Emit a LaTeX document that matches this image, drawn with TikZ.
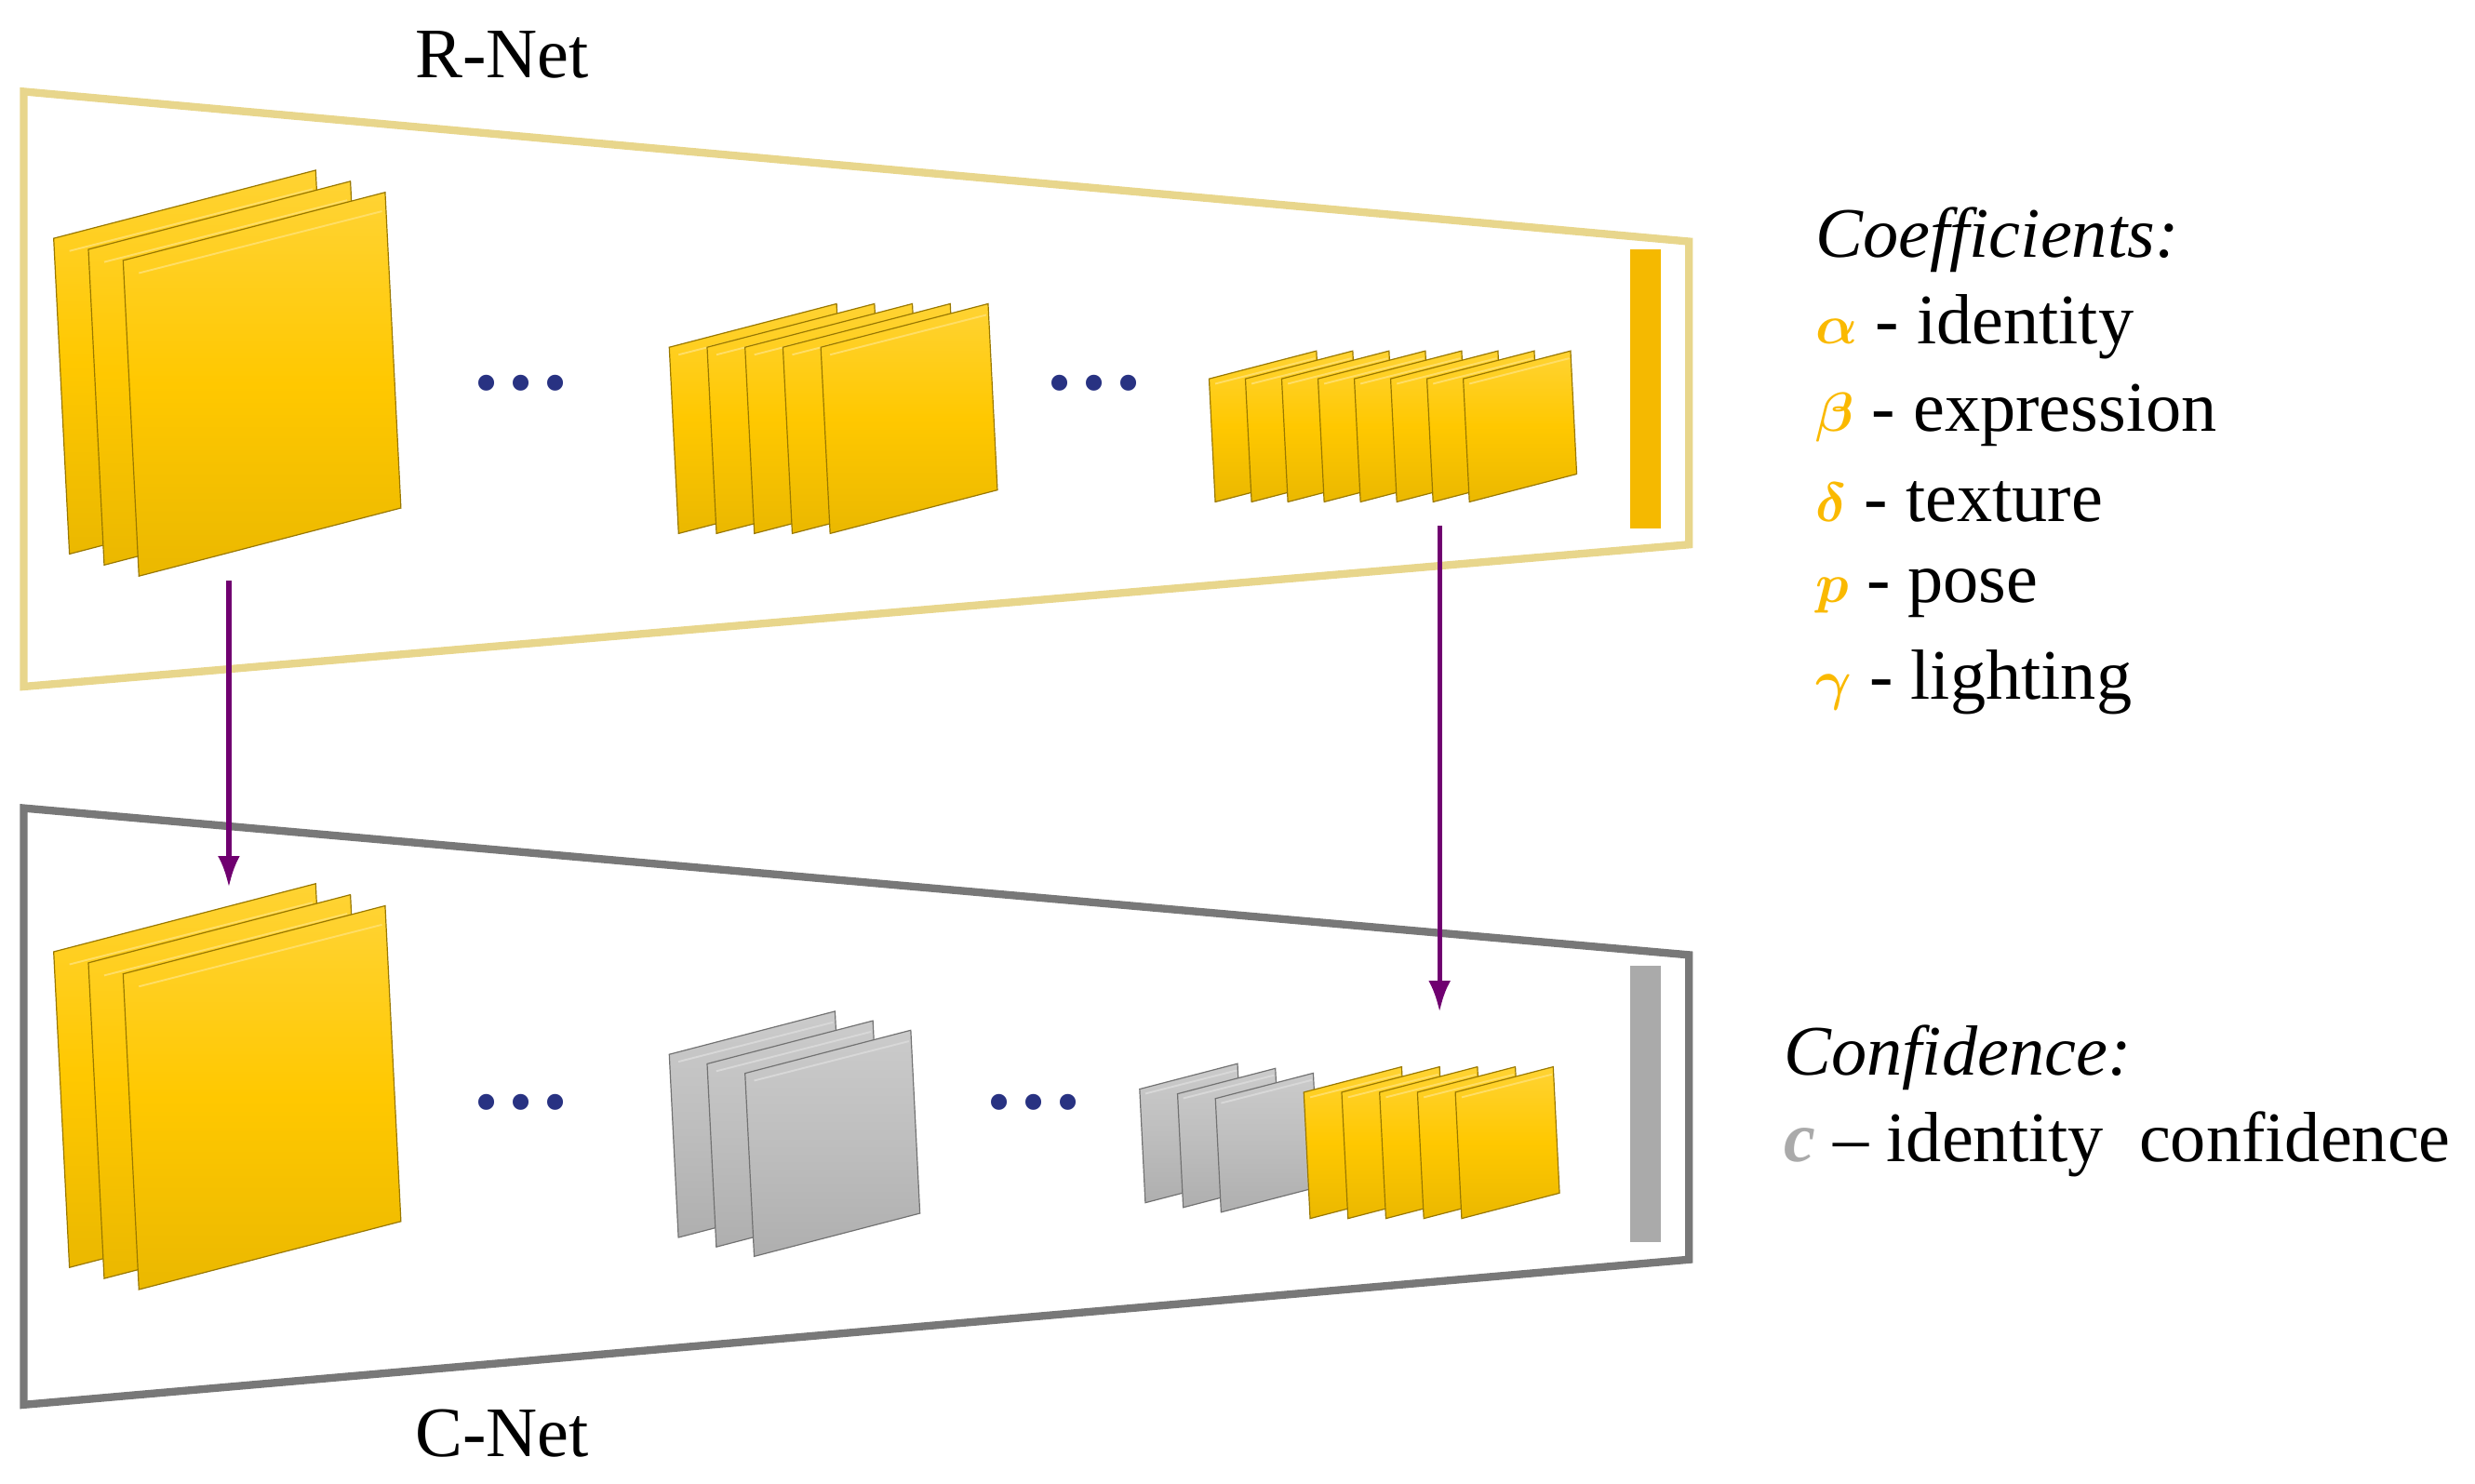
\documentclass[tikz,border=0pt]{standalone}
\usepackage{amsmath}
\usepackage{fontspec}
\setmainfont{Liberation Serif}
\usetikzlibrary{arrows.meta}
\begin{document}
\definecolor{gold}{RGB}{255,200,0}
\definecolor{slgray}{RGB}{190,190,190}
\definecolor{rframe}{RGB}{232,214,140}
\definecolor{cframe}{RGB}{120,120,120}
\definecolor{purp}{RGB}{112,0,112}
\definecolor{dotc}{RGB}{40,50,130}
\definecolor{bar}{RGB}{245,185,0}
\definecolor{greek}{RGB}{250,185,0}
\definecolor{cgray}{RGB}{170,170,170}
\newcommand{\myslab}[5]{%
 \path[draw=#5!60!black,line width=0.5pt,top color=#5!80!white,bottom color=#5!92!black,middle color=#5]
  (#1,#2) -- ++(#3,-0.26*#3) -- ++(0.05*#4,#4) -- ++(-#3,0.26*#3) -- cycle;
 \path[draw=#5!60!white,line width=0.8pt] (#1+0.05*#4,#2+0.04*#4) -- ++(#3-0.06*#4,-0.26*#3+0.02*#4);}
\newcommand{\stack}[8]{% x y w h n dx dy color
 \foreach \i in {0,...,\numexpr#5-1\relax}{\myslab{#1+\i*#6}{#2+\i*#7}{#3}{#4}{#8}}}
\begin{tikzpicture}[x=0.25mm,y=-0.25mm,
  lbl/.style={font=\fontsize{32}{36}\selectfont,anchor=west,inner sep=0pt},
  arr/.style={purp,line width=2.2pt,-{Latex[length=14pt,width=10pt]}},
  dots/.style={font=\fontsize{30}{30}\selectfont,text=dotc}]
\useasboundingbox (0,0) rectangle (1568,940);
\draw[rframe,line width=3.5pt,line join=miter] (15,58) -- (1070,153) -- (1070,345) -- (15,435) -- cycle;
\draw[cframe,line width=3.5pt] (15,512) -- (1070,605) -- (1070,798) -- (15,890) -- cycle;
\node[font=\fontsize{32}{36}\selectfont] (rn) at (318,35) {R-Net};
\node[font=\fontsize{32}{36}\selectfont] (cn) at (318,908) {C-Net};
% R groups
\stack{34}{151}{166}{200}{3}{22}{7}{gold}
\stack{424}{220}{106}{118}{5}{24}{0}{gold}
\stack{766}{240}{68}{78}{8}{23}{0}{gold}
% C groups
\stack{34}{603}{166}{200}{3}{22}{7}{gold}
\stack{424}{668}{105}{116}{3}{24}{6}{slgray}
\stack{722}{690}{62}{72}{3}{24}{3}{slgray}
\stack{826}{692}{62}{80}{5}{24}{0}{gold}
\node[dots] (d1) at (330,247) {\textbullet\,\textbullet\,\textbullet};
\node[dots] (d2) at (693,247) {\textbullet\,\textbullet\,\textbullet};
\node[dots] (d3) at (330,703) {\textbullet\,\textbullet\,\textbullet};
\node[dots] (d4) at (655,703) {\textbullet\,\textbullet\,\textbullet};
\fill[bar] (1033,158) rectangle (1052,335);
\fill[cgray] (1033,612) rectangle (1052,787);
\coordinate (a1) at (145,368); \coordinate (b1) at (145,562);
\coordinate (a2) at (912,333); \coordinate (b2) at (912,641);
\draw[arr] (a1) -- (b1);
\draw[arr] (a2) -- (b2);
\node[lbl,font=\fontsize{32}{36}\selectfont\itshape] (co) at (1150,152) {Coefficients:};
\node[lbl] (l1) at (1150,207) {\textcolor{greek}{$\boldsymbol{\alpha}$}\ - identity};
\node[lbl] (l2) at (1150,263) {\textcolor{greek}{$\boldsymbol{\beta}$}\ - expression};
\node[lbl] (l3) at (1150,318) {\textcolor{greek}{$\boldsymbol{\delta}$}\ - texture};
\node[lbl] (l4) at (1150,376) {\textcolor{greek}{$\boldsymbol{p}$}\ - pose};
\node[lbl] (l5) at (1150,432) {\textcolor{greek}{$\boldsymbol{\gamma}$}\ - lighting};
\node[lbl,font=\fontsize{32}{36}\selectfont\itshape] (cf) at (1130,670) {Confidence:};
\node[lbl] (l6) at (1130,725) {\textcolor{cgray}{\bfseries\itshape c}\ -- identity\ \ confidence};
\end{tikzpicture}
\end{document}
